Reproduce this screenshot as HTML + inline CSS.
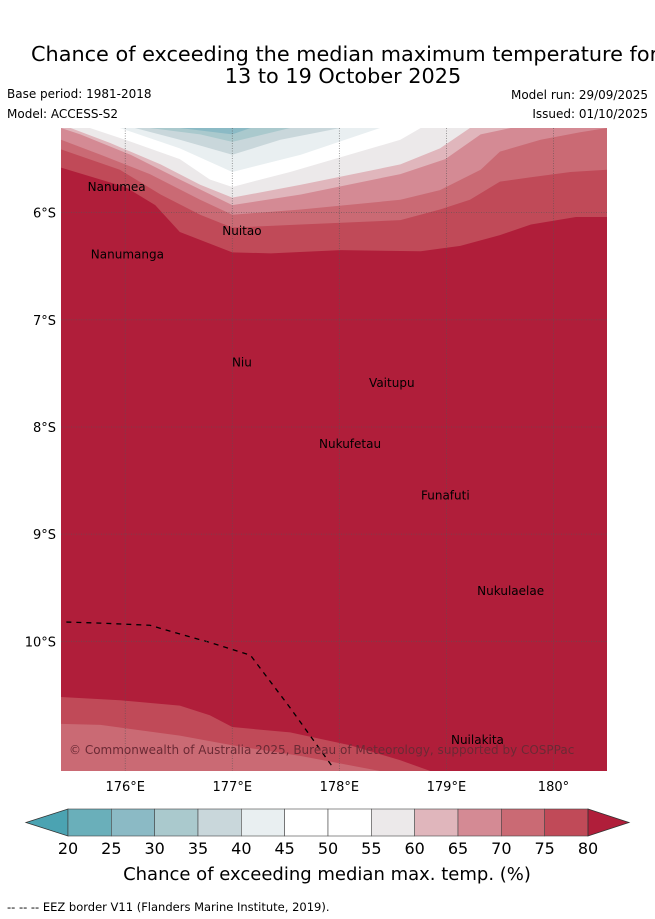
<!DOCTYPE html>
<html><head><meta charset="utf-8"><style>
body{margin:0;background:#fff;}
svg{display:block;font-family:"DejaVu Sans","Liberation Sans",sans-serif;}
</style></head><body>
<svg id="chart" width="655" height="919" viewBox="0 0 655 919">
<text x="31" y="61" font-size="20.8" fill="#000">Chance of exceeding the median maximum temperature for</text>
<text x="343" y="83" font-size="20.8" text-anchor="middle" fill="#000">13 to 19 October 2025</text>
<text x="7" y="98" font-size="12">Base period: 1981-2018</text>
<text x="7" y="118" font-size="12">Model: ACCESS-S2</text>
<text x="648" y="99" font-size="12" text-anchor="end">Model run: 29/09/2025</text>
<text x="648" y="118" font-size="12" text-anchor="end">Issued: 01/10/2025</text>
<defs><clipPath id="mapclip"><rect x="61" y="128" width="546" height="643"/></clipPath></defs>
<g id="map" clip-path="url(#mapclip)"></g>
<g id="grid"></g>
<g id="labels"></g>
<g id="axes"></g>
<g id="cbar"></g>
<text x="327" y="880" font-size="18" text-anchor="middle">Chance of exceeding median max. temp. (%)</text>
<text x="7" y="911" font-size="11.5">-- -- -- EEZ border V11 (Flanders Marine Institute, 2019).</text>
</svg>
<script>
// ---- data ----
const bandColors = ["#4ba3b2","#6aafba","#8bbac5","#aac9cd","#c9d7db","#e9eff1","#ffffff","#ffffff","#ece9ea","#e0b6bc","#d48a94","#ca6a74","#c04a58","#b01e3a"];
const cbarTicks = [20,25,30,35,40,45,50,55,60,65,70,75,80];
const lonTicks = [176,177,178,179,180];
const latTicks = [6,7,8,9,10];
// top contours (region above boundary has value < level)
const topLevels = [80,75,70,65,60,55,45,40,35,30];
const topLons = [
 [175.40,176.00,176.28,176.51,177.00,177.36,178.01,178.76,179.13,179.50,179.79,180.21,180.50],
 [175.40,175.95,176.33,176.70,177.00,177.64,178.57,178.94,179.22,179.50,179.79,180.16,180.50],
 [175.40,175.77,176.23,176.70,177.00,177.64,178.57,178.94,179.32,179.50,179.88,180.25,180.50],
 [175.40,175.58,176.05,176.51,177.00,177.64,178.57,178.99,179.32,179.60],
 [175.49,175.86,176.33,176.70,177.00,177.64,178.57,178.94,179.22],
 [175.67,176.00,176.51,176.79,177.00,177.54,178.57,178.76],
 [175.95,176.51,177.00,177.64,178.38],
 [176.09,176.51,177.00,177.45,178.01],
 [176.23,176.70,177.00,177.54],
 [176.51,177.00,177.17]
];
const topLats = [
 [5.58,5.76,5.93,6.18,6.37,6.38,6.35,6.36,6.31,6.21,6.11,6.04,6.04],
 [5.41,5.60,5.83,6.02,6.14,6.11,6.07,5.97,5.88,5.71,5.67,5.62,5.60],
 [5.32,5.46,5.64,5.88,6.02,5.97,5.88,5.79,5.60,5.43,5.32,5.25,5.21],
 [5.21,5.27,5.46,5.69,5.93,5.83,5.64,5.50,5.27,5.21],
 [5.21,5.35,5.55,5.74,5.86,5.74,5.55,5.40,5.21],
 [5.21,5.32,5.50,5.69,5.76,5.62,5.32,5.21],
 [5.21,5.40,5.62,5.46,5.21],
 [5.21,5.32,5.46,5.32,5.21],
 [5.21,5.27,5.34,5.21],
 [5.21,5.27,5.21]
];
// bottom contours (region below boundary has value < level)
const botLevels = [80,75];
const botLons = [
 [175.40,175.95,176.51,176.79,177.00,177.54,178.10,178.57,178.85],
 [175.40,175.77,176.51,177.00,177.64,178.38]
];
const botLats = [
 [10.52,10.55,10.60,10.69,10.80,10.85,10.97,11.11,11.21],
 [10.77,10.78,10.88,10.97,11.07,11.21]
];
const eezLons = [175.45,175.77,176.23,176.47,176.79,177.17,177.54,177.95];
const eezLats = [9.82,9.83,9.85,9.92,10.01,10.13,10.62,11.19];
const places = ["Nanumea","Nanumanga","Nuitao","Niu","Vaitupu","Nukufetau","Funafuti","Nukulaelae","Nuilakita"];
const placeLons = [175.92,176.02,177.09,177.09,178.49,178.10,178.99,179.60,179.29];
const placeLats = [5.76,6.39,6.17,7.40,7.59,8.16,8.64,9.53,10.92];

// ---- axes ----
const NS="http://www.w3.org/2000/svg";
const X0=61,X1=607,Y0=128,Y1=771,LON0=175.40,LON1=180.50,LAT0=5.21,LAT1=11.21;
const xs=lon=>X0+(lon-LON0)/(LON1-LON0)*(X1-X0);
const ys=lat=>Y0+(lat-LAT0)/(LAT1-LAT0)*(Y1-Y0);
function mk(tag,attrs,parent){const e=document.createElementNS(NS,tag);for(const k in attrs)e.setAttribute(k,attrs[k]);parent.appendChild(e);return e;}
const map=document.getElementById('map');
const colorFor=lv=>bandColors[cbarTicks.indexOf(lv)];
const bg=mk('rect',{x:X0,y:Y0,width:X1-X0,height:Y1-Y0,fill:bandColors[13]},map);


topLevels.forEach((lv,i)=>{
  const pts=topLons[i].map((lo,j)=>xs(lo)+','+ys(topLats[i][j]));
  const last=topLons[i][topLons[i].length-1];
  pts.push(xs(last)+','+ys(LAT0),xs(LON0)+','+ys(LAT0));
  const p=mk('polygon',{points:pts.join(' '),fill:colorFor(lv)},map);
  
  
});
botLevels.forEach((lv,i)=>{
  const pts=botLons[i].map((lo,j)=>xs(lo)+','+ys(botLats[i][j]));
  const last=botLons[i][botLons[i].length-1];
  pts.push(xs(last)+','+ys(LAT1),xs(LON0)+','+ys(LAT1));
  const p=mk('polygon',{points:pts.join(' '),fill:colorFor(lv)},map);
  
  
});
const eez=mk('polyline',{points:eezLons.map((lo,j)=>xs(lo)+','+ys(eezLats[j])).join(' '),fill:'none',stroke:'#000','stroke-width':1.3,'stroke-dasharray':'5,5'},map);


const cr=mk('text',{x:69,y:754,'font-size':12,fill:'#6b2a35'},map);
cr.textContent='© Commonwealth of Australia 2025, Bureau of Meteorology, supported by COSPPac';



const grid=document.getElementById('grid'),axes=document.getElementById('axes');
lonTicks.forEach(lo=>{
  const l=mk('line',{x1:xs(lo),x2:xs(lo),y1:Y0,y2:Y1,stroke:'#555','stroke-width':0.8,'stroke-dasharray':'1,1.5','stroke-opacity':0.7},grid);
  
  
  const t=mk('text',{x:xs(lo),y:Y1+20,'font-size':13,'text-anchor':'middle'},axes);
  t.textContent=lo+'°'+(lo<180?'E':'');
  
  
});
latTicks.forEach(la=>{
  const l=mk('line',{x1:X0,x2:X1,y1:ys(la),y2:ys(la),stroke:'#555','stroke-width':0.8,'stroke-dasharray':'1,1.5','stroke-opacity':0.7},grid);
  
  
  const t=mk('text',{x:X0-5,y:ys(la)+5,'font-size':13,'text-anchor':'end'},axes);
  t.textContent=la+'°S';
  
  
});
const labels=document.getElementById('labels');
places.forEach((nm,i)=>{
  const t=mk('text',{x:xs(placeLons[i]),y:ys(placeLats[i])+4,'font-size':12,'text-anchor':'middle',fill:'#000'},labels);
  t.textContent=nm;
  
  
});

// colorbar
const cb=document.getElementById('cbar');
const CB0=68,CB1=588,CBY=809,CBH=27;
const cbx=v=>CB0+(v-cbarTicks[0])/(cbarTicks[cbarTicks.length-1]-cbarTicks[0])*(CB1-CB0);
const lt=mk('polygon',{points:`26,${CBY+CBH/2} ${CB0},${CBY} ${CB0},${CBY+CBH}`,fill:bandColors[0],stroke:'#333','stroke-width':0.8},cb);


for(let i=0;i<cbarTicks.length-1;i++){
  const r=mk('rect',{x:cbx(cbarTicks[i]),y:CBY,width:cbx(cbarTicks[i+1])-cbx(cbarTicks[i]),height:CBH,fill:bandColors[i+1],stroke:'#444','stroke-width':0.6},cb);
  
  
}
const rt=mk('polygon',{points:`${CB1},${CBY} 629,${CBY+CBH/2} ${CB1},${CBY+CBH}`,fill:bandColors[13],stroke:'#333','stroke-width':0.8},cb);


cbarTicks.forEach(v=>{
  const t=mk('text',{x:cbx(v),y:854,'font-size':16,'text-anchor':'middle'},cb);
  t.textContent=v;
  
  
});
</script>
</body></html>
